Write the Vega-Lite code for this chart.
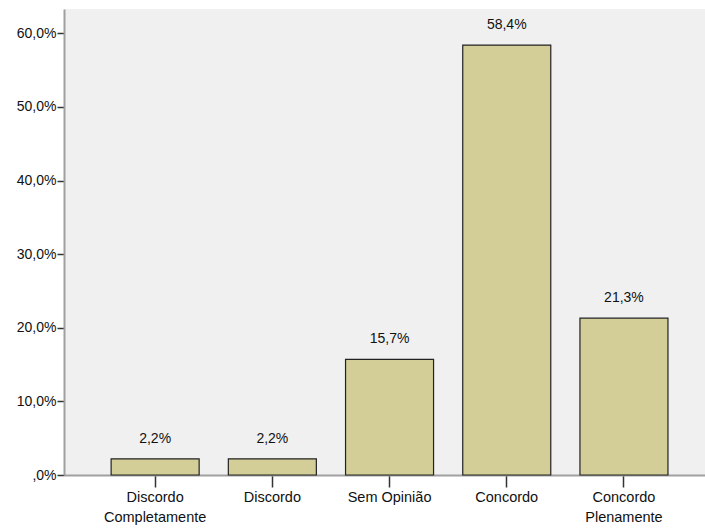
{
  "$schema": "https://vega.github.io/schema/vega-lite/v6.json",
  "width": 641,
  "height": 466,
  "autosize": {"type": "none"},
  "padding": {"left": 64, "top": 9, "right": 0, "bottom": 54},
  "background": "#ffffff",
  "config": {
    "locale": {"number": {"decimal": ",", "thousands": ".", "grouping": [3], "currency": ["", "€"]}},
    "view": {"fill": "#f0f0f0", "stroke": null},
    "font": "Liberation Sans, sans-serif"
  },
  "data": {
    "values": [
      {"resposta": "Discordo Completamente", "pct": 0.022},
      {"resposta": "Discordo", "pct": 0.022},
      {"resposta": "Sem Opinião", "pct": 0.157},
      {"resposta": "Concordo", "pct": 0.584},
      {"resposta": "Concordo Plenamente", "pct": 0.213}
    ]
  },
  "encoding": {
    "x": {
      "field": "resposta",
      "type": "nominal",
      "sort": null,
      "scale": {"paddingInner": 0.249, "paddingOuter": 0.359, "align": 0.56},
      "axis": {
        "title": null,
        "labelAngle": 0,
        "labelFontSize": 14.5,
        "labelColor": "#111111",
        "labelPadding": 3,
        "labelLineHeight": 20,
        "labelExpr": "datum.label == 'Discordo Completamente' ? ['Discordo', 'Completamente'] : datum.label == 'Concordo Plenamente' ? ['Concordo', 'Plenamente'] : datum.label",
        "tickSize": 12,
        "tickColor": "#333333",
        "tickWidth": 1.5,
        "domainColor": "#a0a0a0",
        "domainWidth": 2,
        "grid": false
      }
    },
    "y": {
      "field": "pct",
      "type": "quantitative",
      "scale": {"domain": [0, 0.633], "nice": false},
      "axis": {
        "title": null,
        "values": [0, 0.1, 0.2, 0.3, 0.4, 0.5, 0.6],
        "format": ".1%",
        "labelExpr": "datum.value == 0 ? ',0%' : datum.label",
        "labelFontSize": 14,
        "labelColor": "#111111",
        "labelPadding": 1,
        "tickSize": 7,
        "tickColor": "#333333",
        "tickWidth": 1.5,
        "domainColor": "#a0a0a0",
        "domainWidth": 2,
        "grid": false
      }
    }
  },
  "layer": [
    {
      "mark": {"type": "bar", "fill": "#d3ce97", "stroke": "#222222", "strokeWidth": 1.2}
    },
    {
      "mark": {"type": "text", "baseline": "middle", "dy": -20, "fontSize": 14, "color": "#111111"},
      "encoding": {"text": {"field": "pct", "type": "quantitative", "format": ".1%"}}
    }
  ]
}
